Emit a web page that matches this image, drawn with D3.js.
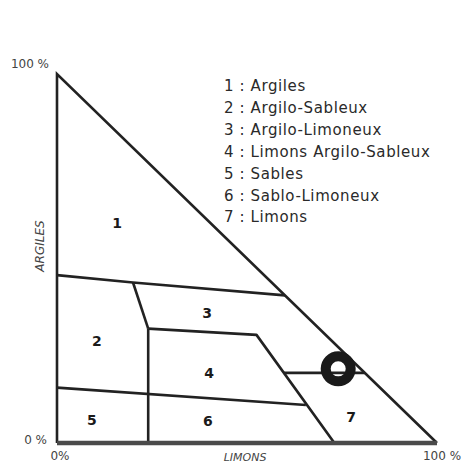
<!DOCTYPE html>
<meta charset="utf-8">
<style>
    body { margin: 0; background: #fff; }
    svg { display: block; }
    .lbl { font-family: "DejaVu Sans", sans-serif; fill: #444; }
</style>
<body>
<div id="chart"></div>
<script src="https://d3js.org/d3.v7.min.js"></script>
<script>
  // texture triangle: x = limons %, y = argiles %
  var frame = [[0, 100], [0, 0], [100, 0]];

  var boundaries = [
    [[0, 45.5], [20, 43.5], [60, 40]],
    [[20, 43.5], [24, 31]],
    [[24, 31], [24, 0]],
    [[24, 31], [52.5, 29.3], [73, 0]],
    [[0, 15], [65.5, 10.3]],
    [[59.7, 19], [81, 19]]
  ];

  var classIds = ["1", "2", "3", "4", "5", "6", "7"];
  var classX = [15.8, 10.5, 39.5, 40, 9.2, 39.7, 77.4];
  var classY = [59.6, 27.6, 35.2, 19, 6.2, 6, 7];
  var classNames = ["Argiles", "Argilo-Sableux", "Argilo-Limoneux", "Limons Argilo-Sableux",
                    "Sables", "Sablo-Limoneux", "Limons"];

  var sample = [74, 20.1];

  var width = 464, height = 463;

  var svg = d3.select("#chart").append("svg")
    .attr("width", width)
    .attr("height", height);

  var x = d3.scaleLinear().domain([0, 100]).range([57, 437]);
  var y = d3.scaleLinear().domain([0, 100]).range([443, 74]);

  var line = d3.line().x(function (d) { return x(d[0]); }).y(function (d) { return y(d[1]); });

  // inner boundaries
  svg.selectAll("path.b")
    .data(boundaries)
    .enter()
    .append("path")
    .attr("class", "b")
    .attr("d", line)
    .attr("fill", "none")
    .attr("stroke", "#222")
    .attr("stroke-width", 2.6)
    .attr("stroke-linejoin", "round");

  // left side + hypotenuse
  svg.append("path")
    .attr("d", line([frame[1], frame[0], frame[2]]))
    .attr("fill", "none")
    .attr("stroke", "#222")
    .attr("stroke-width", 2.6)
    .attr("stroke-linejoin", "miter");

  // bottom axis (thicker, grey)
  svg.append("path")
    .attr("d", line([frame[1], frame[2]]))
    .attr("stroke", "#4a4a4a")
    .attr("stroke-width", 4.5);

  // sample point
  svg.append("circle")
    .attr("cx", x(sample[0]))
    .attr("cy", y(sample[1]))
    .attr("r", 12.5)
    .attr("fill", "none")
    .attr("stroke", "#1a1a1a")
    .attr("stroke-width", 10);

  // class numbers
  svg.selectAll("text.num")
    .data(classIds)
    .enter()
    .append("text")
    .attr("class", "num")
    .attr("x", function (d, i) { return x(classX[i]); })
    .attr("y", function (d, i) { return y(classY[i]); })
    .attr("dy", "0.36em")
    .attr("text-anchor", "middle")
    .attr("font-family", "DejaVu Sans, sans-serif")
    .attr("font-weight", "bold")
    .attr("font-size", 14)
    .attr("fill", "#1a1a1a")
    .text(function (d) { return d; });

  // legend
  svg.selectAll("text.leg")
    .data(classNames)
    .enter()
    .append("text")
    .attr("class", "leg")
    .attr("x", 224)
    .attr("y", function (d, i) { return 91 + i * 21.9; })
    .attr("font-family", "DejaVu Sans, sans-serif")
    .attr("font-size", 15)
    .attr("letter-spacing", 0.6)
    .attr("fill", "#2a2a2a")
    .text(function (d, i) { return classIds[i] + " : " + d; });

  // axis labels
  svg.append("text").attr("class", "lbl").attr("x", 49).attr("y", 68)
    .attr("text-anchor", "end").attr("font-size", 12).text("100 %");
  svg.append("text").attr("class", "lbl").attr("x", 47).attr("y", 444)
    .attr("text-anchor", "end").attr("font-size", 12).text("0 %");
  svg.append("text").attr("class", "lbl").attr("x", 60).attr("y", 460)
    .attr("text-anchor", "middle").attr("font-size", 12).text("0%");
  svg.append("text").attr("class", "lbl").attr("x", 442).attr("y", 460)
    .attr("text-anchor", "middle").attr("font-size", 12).text("100 %");
  svg.append("text").attr("class", "lbl").attr("x", 245).attr("y", 461)
    .attr("text-anchor", "middle").attr("font-size", 11).attr("font-style", "italic")
    .text("LIMONS");
  svg.append("text").attr("class", "lbl")
    .attr("transform", "translate(44,246) rotate(-90)")
    .attr("text-anchor", "middle").attr("font-size", 12).attr("font-style", "italic")
    .text("ARGILES");
</script>
</body>
